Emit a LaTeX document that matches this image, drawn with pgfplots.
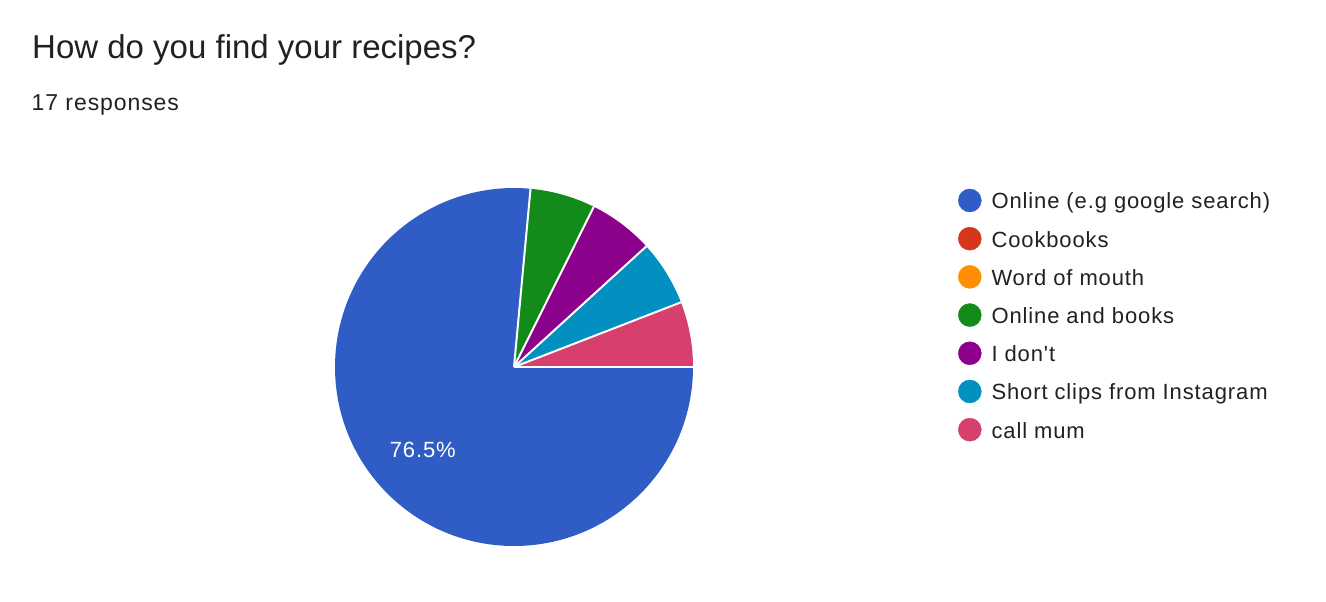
\documentclass[border=0pt]{standalone}
\usepackage{pgfplots}
\pgfplotsset{compat=1.18}
\usepackage{pgfplotstable}
\usepackage{fontspec}
\setmainfont{Liberation Sans}
\newfontfamily\robo{Liberation Sans}[LetterSpace=4]
\newfontfamily\robos{Liberation Sans}[LetterSpace=4]
\definecolor{gblue}{HTML}{2F5CC5}
\definecolor{gred}{HTML}{D6361A}
\definecolor{gorange}{HTML}{FF8F00}
\definecolor{ggreen}{HTML}{138B1B}
\definecolor{gpurple}{HTML}{8C018C}
\definecolor{gcyan}{HTML}{0190C0}
\definecolor{gpink}{HTML}{D73F6D}
\definecolor{gtext}{HTML}{202124}

\pgfplotstableread{
count color
13 gblue
0 gred
0 gorange
1 ggreen
1 gpurple
1 gcyan
1 gpink
}\piedata

\begin{document}
\begin{tikzpicture}[x=1pt,y=1pt]
\fill[white] (0,0) rectangle (1326,-602);
\node[anchor=base west, inner sep=0, font=\fontsize{33}{39}\selectfont, text=gtext] at (32,-59) {How do you find your recipes?};
\node[anchor=base west, inner sep=0, font=\robos\fontsize{23}{27}\selectfont, text=gtext] at (31.5,-110.7) {17 responses};
\begin{axis}[at={(514pt,-367pt)}, anchor=origin, x=179pt, y=179pt,
  xmin=-1, xmax=1, ymin=-1, ymax=1, hide axis, clip=false,
  legend cell align=left,
  legend style={draw=none, fill=none, at={(rel axis cs:1.7316,1.004)}, anchor=north west,
    font=\robo\fontsize{22}{26}\selectfont, text=gtext,
    nodes={inner sep=0pt, text height=15pt, text depth=6pt},
    row sep=12pt,
    /tikz/every even column/.append style={column sep=0pt},
    /tikz/every odd column/.append style={column sep=10pt}},
]
\addlegendimage{legend image code/.code={\fill[gblue] (11.5pt,4pt) circle[radius=11.5pt];}}
\addlegendentry{Online (e.g google search)}
\addlegendimage{legend image code/.code={\fill[gred] (11.5pt,4pt) circle[radius=11.5pt];}}
\addlegendentry{Cookbooks}
\addlegendimage{legend image code/.code={\fill[gorange] (11.5pt,4pt) circle[radius=11.5pt];}}
\addlegendentry{Word of mouth}
\addlegendimage{legend image code/.code={\fill[ggreen] (11.5pt,4pt) circle[radius=11.5pt];}}
\addlegendentry{Online and books}
\addlegendimage{legend image code/.code={\fill[gpurple] (11.5pt,4pt) circle[radius=11.5pt];}}
\addlegendentry{I don't}
\addlegendimage{legend image code/.code={\fill[gcyan] (11.5pt,4pt) circle[radius=11.5pt];}}
\addlegendentry{Short clips from Instagram}
\addlegendimage{legend image code/.code={\fill[gpink] (11.5pt,4pt) circle[radius=11.5pt];}}
\addlegendentry{call mum}

\pgfplotsextra{
  \pgfplotstablegetrowsof{\piedata}\pgfmathtruncatemacro\nrows{\pgfplotsretval-1}
  \gdef\total{0}
  \foreach \i in {0,...,\nrows}{
    \pgfplotstablegetelem{\i}{count}\of\piedata
    \pgfmathsetmacro\tmp{\total+\pgfplotsretval}\xdef\total{\tmp}
  }
  % fills
  \gdef\curang{0}
  \foreach \i in {0,...,\nrows}{
    \pgfplotstablegetelem{\i}{count}\of\piedata \pgfmathsetmacro\val{\pgfplotsretval}
    \pgfplotstablegetelem{\i}{color}\of\piedata \edef\slicecol{\pgfplotsretval}
    \pgfmathsetmacro\angA{\curang}
    \pgfmathsetmacro\angB{\angA-\val*360/\total}
    \ifdim\val pt>0pt
      \fill[fill=\slicecol] (axis cs:0,0) -- (axis cs:{cos(\angA)},{sin(\angA)})
        arc[start angle=\angA, end angle=\angB, radius=179pt] -- cycle;
    \fi
    \xdef\curang{\angB}
  }
  % separators and labels
  \gdef\curang{0}
  \foreach \i in {0,...,\nrows}{
    \pgfplotstablegetelem{\i}{count}\of\piedata \pgfmathsetmacro\val{\pgfplotsretval}
    \pgfmathsetmacro\angA{\curang}
    \pgfmathsetmacro\angB{\angA-\val*360/\total}
    \ifdim\val pt>0pt
      \draw[white, line width=2pt] (axis cs:0,0) -- (axis cs:{cos(\angA)},{sin(\angA)});
      \pgfmathsetmacro\frac{\val/\total}
      \ifdim\frac pt>0.1pt
        \pgfmathsetmacro\mid{(\angA+\angB)/2}
        \pgfmathsetmacro\pct{100*\val/\total}
        \node[text=white, font=\robo\fontsize{22}{26}\selectfont, inner sep=0]
          at (axis cs:{0.69*cos(\mid)},{0.69*sin(\mid)})
          {\pgfmathprintnumber[fixed, precision=1, fixed zerofill, assume math mode=true]{\pct}\%};
      \fi
    \fi
    \xdef\curang{\angB}
  }
}
\end{axis}
\end{tikzpicture}
\end{document}
